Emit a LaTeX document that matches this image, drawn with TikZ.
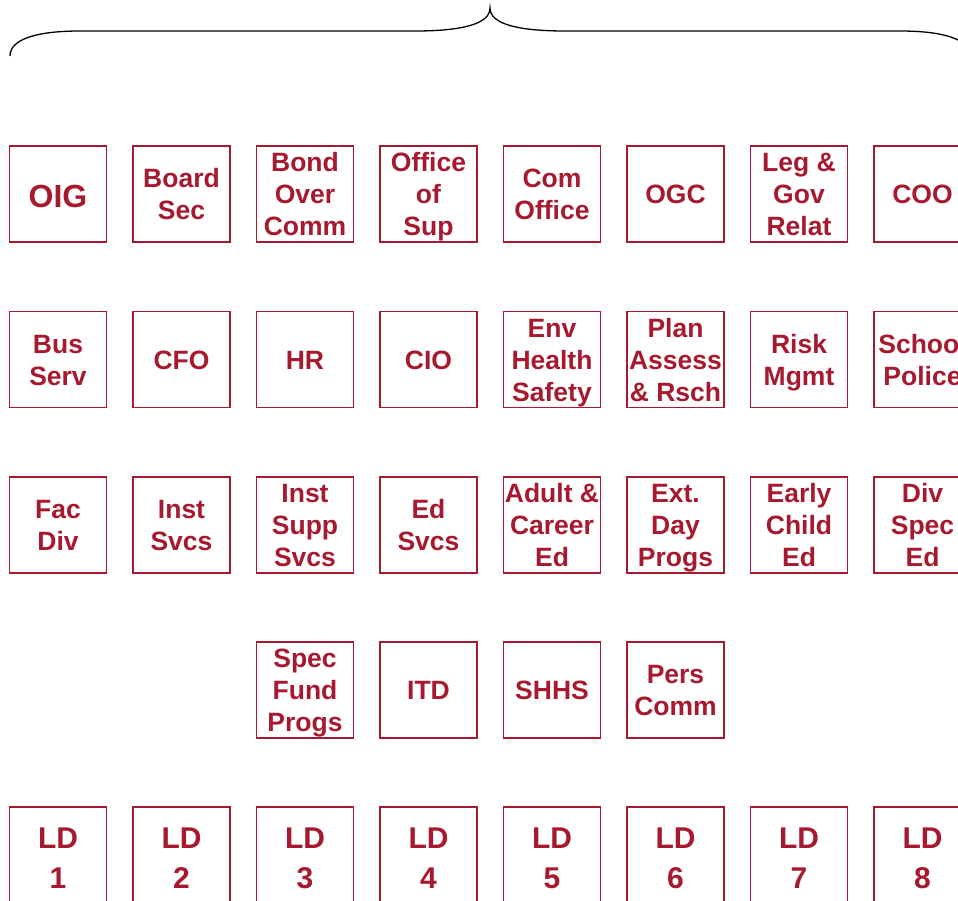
\documentclass[tikz,border=0pt]{standalone}
\usepackage{fontspec}
\setmainfont{Liberation Sans}
\definecolor{orgred}{RGB}{166,25,46}
\newcommand{\ts}{\rule{0pt}{25pt}}
\newcommand{\bs}{\rule[-6pt]{0pt}{6pt}}
\newcommand{\tsl}{\rule{0pt}{32pt}}
\begin{document}
\begin{tikzpicture}[x=1pt,y=-1pt,
  unit/.style={draw=orgred,line width=1.4pt,text=orgred,minimum width=97pt,minimum height=96pt,
    inner sep=0pt,align=center,font=\bfseries\fontsize{26.5}{32}\selectfont},
  bigunit/.style={unit,font=\bfseries\fontsize{32}{38}\selectfont},
  ldunit/.style={unit,font=\bfseries\fontsize{30}{40}\selectfont},
  bracestyle/.style={draw=black,line width=1.3pt}]
\clip (0,0) rectangle (958,900);
% brace
\coordinate (bl) at (10,56);
\coordinate (bt) at (490,8);
\coordinate (br) at (970,56);
\draw[bracestyle] (bl) .. controls (10,38) and (40,31) .. (80,31) -- (415,31)
  .. controls (462,31) and (490,24) .. (bt)
  .. controls (490,24) and (518,31) .. (565,31) -- (900,31)
  .. controls (940,31) and (970,38) .. (br);
% row 1
\node[bigunit] (oig) at (58,194) {\tsl OIG\bs};
\node[unit] (bsec) at (181.5,194) {\ts Board\\Sec\bs};
\node[unit] (boc) at (305,194) {\ts Bond\\Over\\Comm\bs};
\node[unit] (osup) at (428.5,194) {\ts Office\\of\\Sup\bs};
\node[unit] (com) at (552,194) {\ts Com\\Office\bs};
\node[unit] (ogc) at (675.5,194) {\ts OGC\bs};
\node[unit] (leg) at (799,194) {\ts Leg \&\\Gov\\Relat\bs};
\node[unit] (coo) at (922.5,194) {\ts COO\bs};
% row 2
\node[unit] (bus) at (58,359.5) {\ts Bus\\Serv\bs};
\node[unit] (cfo) at (181.5,359.5) {\ts CFO\bs};
\node[unit] (hr) at (305,359.5) {\ts HR\bs};
\node[unit] (cio) at (428.5,359.5) {\ts CIO\bs};
\node[unit] (env) at (552,359.5) {\ts Env\\Health\\Safety\bs};
\node[unit] (plan) at (675.5,359.5) {\ts Plan\\Assess\\\& Rsch\bs};
\node[unit] (risk) at (799,359.5) {\ts Risk\\Mgmt\bs};
\node[unit] (pol) at (922.5,359.5) {\ts School\\Police\bs};
% row 3
\node[unit] (fac) at (58,525) {\ts Fac\\Div\bs};
\node[unit] (inst) at (181.5,525) {\ts Inst\\Svcs\bs};
\node[unit] (iss) at (305,525) {\ts Inst\\Supp\\Svcs\bs};
\node[unit] (ed) at (428.5,525) {\ts Ed\\Svcs\bs};
\node[unit] (adult) at (552,525) {\ts Adult \&\\Career\\Ed\bs};
\node[unit] (ext) at (675.5,525) {\ts Ext.\\Day\\Progs\bs};
\node[unit] (early) at (799,525) {\ts Early\\Child\\Ed\bs};
\node[unit] (spec) at (922.5,525) {\ts Div\\Spec\\Ed\bs};
% row 4
\node[unit] (sfp) at (305,690) {\ts Spec\\Fund\\Progs\bs};
\node[unit] (itd) at (428.5,690) {\ts ITD\bs};
\node[unit] (shhs) at (552,690) {\ts SHHS\bs};
\node[unit] (pers) at (675.5,690) {\ts Pers\\Comm\bs};
% row 5
\node[ldunit] (ld1) at (58,855) {\tsl LD\\1\bs};
\node[ldunit] (ld2) at (181.5,855) {\tsl LD\\2\bs};
\node[ldunit] (ld3) at (305,855) {\tsl LD\\3\bs};
\node[ldunit] (ld4) at (428.5,855) {\tsl LD\\4\bs};
\node[ldunit] (ld5) at (552,855) {\tsl LD\\5\bs};
\node[ldunit] (ld6) at (675.5,855) {\tsl LD\\6\bs};
\node[ldunit] (ld7) at (799,855) {\tsl LD\\7\bs};
\node[ldunit] (ld8) at (922.5,855) {\tsl LD\\8\bs};
\end{tikzpicture}
\end{document}
